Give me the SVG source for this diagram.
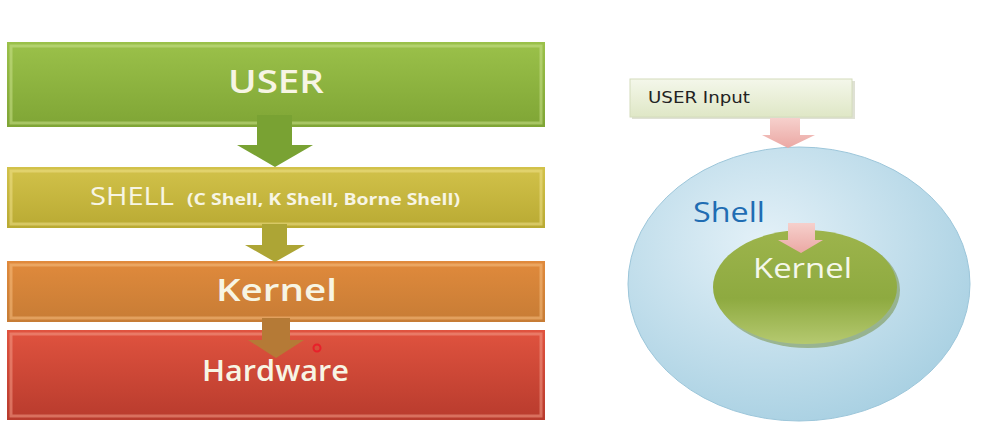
<svg xmlns="http://www.w3.org/2000/svg" width="1001" height="432" viewBox="0 0 1001 432">
<style>
.lbl{font-family:"Open Sans","Noto Sans","Liberation Sans",sans-serif;fill:#f7f5e4;font-weight:600}
.bevel{fill:none;stroke-width:3;stroke-opacity:0.55}
.rt{font-family:"Open Sans","Noto Sans",sans-serif;font-size:28px}
</style>
<defs>
<linearGradient id="gGreen" x1="0" y1="0" x2="0" y2="1"><stop offset="0" stop-color="#9bc14a"/><stop offset="1" stop-color="#7fa535"/></linearGradient>
<linearGradient id="gOlive" x1="0" y1="0" x2="0" y2="1"><stop offset="0" stop-color="#d2c24a"/><stop offset="1" stop-color="#b9aa33"/></linearGradient>
<linearGradient id="gOrange" x1="0" y1="0" x2="0" y2="1"><stop offset="0" stop-color="#e08a3c"/><stop offset="1" stop-color="#c77c35"/></linearGradient>
<linearGradient id="gRed" x1="0" y1="0" x2="0" y2="1"><stop offset="0" stop-color="#e0533f"/><stop offset="1" stop-color="#b83b2d"/></linearGradient>
<linearGradient id="gInput" x1="0" y1="0" x2="0" y2="1"><stop offset="0" stop-color="#f4f7ea"/><stop offset="1" stop-color="#dfe7c6"/></linearGradient>
<linearGradient id="gPink" x1="0" y1="0" x2="0" y2="1"><stop offset="0" stop-color="#f6d0cc"/><stop offset="1" stop-color="#eba8a4"/></linearGradient>
<radialGradient id="gBlue" cx="0.4" cy="0.35" r="0.7"><stop offset="0" stop-color="#e4f1f8"/><stop offset="1" stop-color="#a8d0e2"/></radialGradient>
<linearGradient id="gKern" x1="0" y1="0" x2="0" y2="1"><stop offset="0" stop-color="#9db44c"/><stop offset="0.6" stop-color="#8eaa40"/><stop offset="1" stop-color="#b5c970"/></linearGradient>
</defs>

<g id="user">
<rect x="7" y="42" width="538" height="85" fill="url(#gGreen)"/>
<rect x="11" y="46" width="530" height="77" class="bevel" stroke="#c8e08a"/>
<text x="228" y="93" class="lbl" font-size="32" textLength="96" lengthAdjust="spacingAndGlyphs">USER</text>
</g>
<g id="shell">
<rect x="7" y="167" width="538" height="61" fill="url(#gOlive)"/>
<rect x="11" y="171" width="530" height="53" class="bevel" stroke="#eee08a"/>
<text x="90" y="205" class="lbl" font-size="25" style="font-weight:500" textLength="84" lengthAdjust="spacingAndGlyphs">SHELL</text>
<text x="187" y="205" class="lbl" font-size="16" style="font-weight:700" textLength="273" lengthAdjust="spacingAndGlyphs">(C Shell, K Shell, Borne Shell)</text>
</g>
<g id="kernel">
<rect x="7" y="261" width="538" height="61" fill="url(#gOrange)"/>
<rect x="11" y="265" width="530" height="53" class="bevel" stroke="#f5bd80"/>
<text x="216" y="301" class="lbl" font-size="31" textLength="121" lengthAdjust="spacingAndGlyphs">Kernel</text>
</g>
<g id="hardware">
<rect x="7" y="330" width="538" height="90" fill="url(#gRed)"/>
<rect x="11" y="334" width="530" height="82" class="bevel" stroke="#f39a86"/>
<text x="202" y="381" class="lbl" font-size="29" textLength="147" lengthAdjust="spacingAndGlyphs">Hardware</text>
</g>

<g id="user-input">
<rect x="632" y="81" width="223" height="38" fill="#c9cdb8" opacity="0.6"/>
<rect x="630" y="79" width="222" height="38" fill="url(#gInput)" stroke="#d4dcbc" stroke-width="1"/>
<text x="648" y="103" font-family="Verdana, 'DejaVu Sans', sans-serif" font-size="15" fill="#222" textLength="102" lengthAdjust="spacingAndGlyphs">USER Input</text>
</g>
<g id="shell-ring">
<ellipse cx="799" cy="284" rx="171" ry="137" fill="url(#gBlue)" stroke="#9cc6da" stroke-width="1"/>
<text x="693" y="222" class="rt" fill="#1f6db3" textLength="72" lengthAdjust="spacingAndGlyphs">Shell</text>
</g>
<g id="kernel-core">
<ellipse cx="808" cy="290" rx="92" ry="58" fill="#6f8a35" opacity="0.5"/>
<ellipse cx="805" cy="287" rx="92" ry="57" fill="url(#gKern)"/>
<text x="753" y="278" class="rt" fill="#f5f7ea" textLength="99" lengthAdjust="spacingAndGlyphs">Kernel</text>
</g>

<g id="connectors">
<path d="M257 115 H292 V145 H313 L275 167 L237 145 H257 Z" fill="#79a233"/>
<path d="M262 224 H287 V245 H305 L275 262 L245 245 H262 Z" fill="#ada535"/>
<path d="M262 318 H290 V340 H304 L276 358 L248 340 H262 Z" fill="#b57a36"/>
<path d="M770 118 H800 V135 H815 L788 148 L762 135 H770 Z" fill="url(#gPink)"/>
<path d="M788 223 H815 V240 H823 L801 253 L778 240 H788 Z" fill="url(#gPink)"/>
</g>
<circle cx="317" cy="348" r="3.5" fill="none" stroke="#e8202a" stroke-width="2"/>
</svg>
